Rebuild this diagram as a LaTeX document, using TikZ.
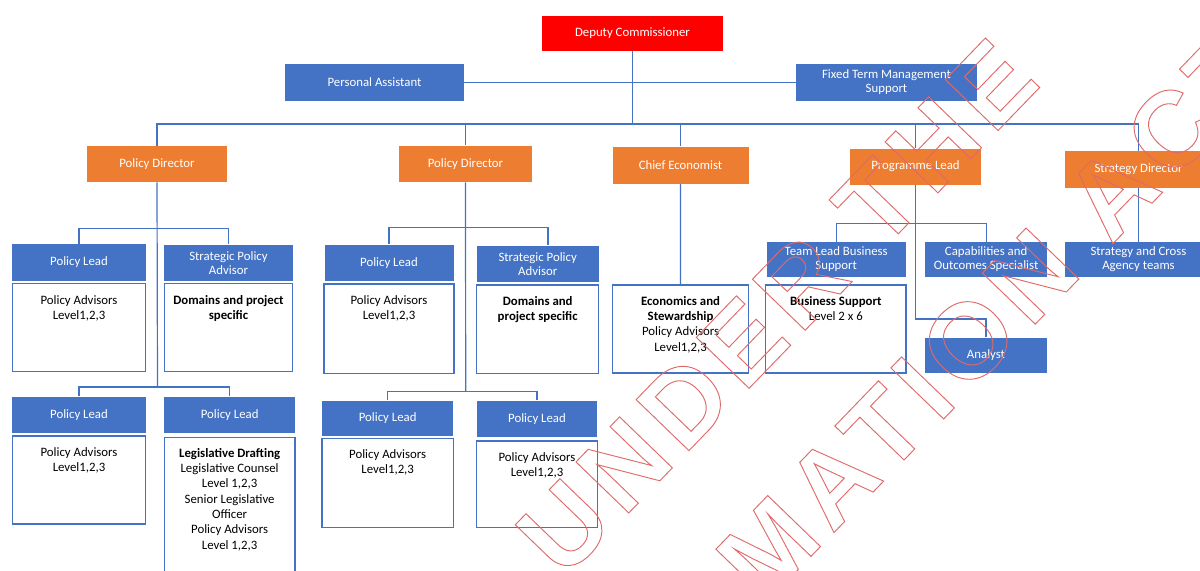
\documentclass[tikz,border=0pt]{standalone}
\usepackage{fontspec}
\setmainfont{Carlito}
\newfontfamily\wmfont{Liberation Sans}[LetterSpace=9]
\definecolor{cblue}{HTML}{4472C4}
\definecolor{corange}{HTML}{ED7D31}
\definecolor{cred}{HTML}{FF0000}
\definecolor{wmred}{HTML}{E06A6A}
\tikzset{
  conn/.style={draw=cblue, line width=0.9pt},
  head/.style={rectangle, inner sep=0pt, align=center, text=white, font=\fontsize{9.6}{10.6}\selectfont},
  bluehead/.style={head, fill=cblue},
  orangehead/.style={head, fill=corange},
  redhead/.style={head, fill=cred},
  bodybox/.style={rectangle, draw=cblue, line width=1.1pt, fill=white, inner sep=0pt},
  bodytext/.style={anchor=north, align=center, inner sep=0pt, text=black, font=\fontsize{9.6}{11.3}\selectfont},
  wmark/.style={anchor=base, rotate=46, inner sep=0pt, text=wmred, font=\wmfont\bfseries\fontsize{80}{90}\selectfont},
}
\newcommand\orgnode[7]{\node[#6, minimum width={(#4-(#2))*0.75pt}, minimum height={(#5-(#3))*0.75pt}] (#1) at ({(#2+#4)/2},{(#3+#5)/2}) {#7};}
\newcommand\outlinetext[1]{\special{pdf:literal 1 Tr 0.7 w}#1\special{pdf:literal 0 Tr}}
\begin{document}
\begin{tikzpicture}[x=0.75pt, y=-0.75pt]
\useasboundingbox (0,0) rectangle (1200,571);
\clip (0,0) rectangle (1200,571);
\fill[white] (0,0) rectangle (1200,571);

% top level
\orgnode{dc}{542}{16}{723}{51}{redhead}{Deputy Commissioner}
\orgnode{pa}{285}{64}{464}{100.5}{bluehead}{Personal Assistant}
\orgnode{ftms}{796}{64}{977}{100.5}{bluehead}{Fixed Term Management\\Support}
\coordinate (j0) at (632.5,124);

% second level
\orgnode{pd1}{87}{146}{227}{182}{orangehead}{Policy Director}
\orgnode{pd2}{399}{145.5}{532}{182}{orangehead}{Policy Director}
\orgnode{ce}{612.5}{146.5}{748.5}{183.5}{orangehead}{Chief Economist}
\orgnode{pl}{850}{148.5}{981}{184.5}{orangehead}{Programme Lead}
\orgnode{sd}{1065}{151}{1212}{188}{orangehead}{Strategy Director}

% column 1
\orgnode{pl1a}{12.3}{244}{145.7}{281}{bluehead}{Policy Lead}
\orgnode{b1a}{12.3}{283.5}{145.7}{371.7}{bodybox}{}
\orgnode{spa1}{164.3}{244.5}{292.7}{281}{bluehead}{Strategic Policy\\Advisor}
\orgnode{bspa1}{164.3}{283.5}{292.7}{371.7}{bodybox}{}
\orgnode{pl1b}{12.3}{396.7}{145.7}{433.3}{bluehead}{Policy Lead}
\orgnode{b1b}{12.3}{436}{145.7}{524}{bodybox}{}
\orgnode{leg}{164.3}{396.7}{295}{433.3}{bluehead}{Policy Lead}
\orgnode{bleg}{164.3}{437.7}{295}{600}{bodybox}{}
\coordinate (c1) at (157.5,387.3);

% column 2
\orgnode{pl2a}{324.5}{244.5}{453.5}{281}{bluehead}{Policy Lead}
\orgnode{b2a}{324}{284}{454}{373.3}{bodybox}{}
\orgnode{spa2}{476.7}{245.7}{598.7}{281.7}{bluehead}{Strategic Policy\\Advisor}
\orgnode{bspa2}{476.7}{285}{598.7}{373.3}{bodybox}{}
\orgnode{pl2b}{322}{400.7}{453.3}{435.7}{bluehead}{Policy Lead}
\orgnode{b2b}{322}{438.3}{453.3}{527.7}{bodybox}{}
\orgnode{pl2c}{476.7}{400.7}{597.3}{437.3}{bluehead}{Policy Lead}
\orgnode{b2c}{476.7}{441}{597.3}{527.7}{bodybox}{}
\coordinate (c2) at (465.7,391.7);

% column 3
\orgnode{econ}{612.6}{285}{748.5}{373}{bodybox}{}

% column 4
\orgnode{tl}{766.7}{242}{905.7}{276.7}{bluehead}{Team Lead Business\\Support}
\orgnode{bs}{765.7}{285}{906}{373}{bodybox}{}
\orgnode{cap}{925.3}{242}{1047}{277}{bluehead}{Capabilities and\\Outcomes Specialist}
\orgnode{an}{925}{337.7}{1047}{373.3}{bluehead}{Analyst}
\coordinate (c4) at (915.5,319);

% column 5
\orgnode{sac}{1065}{242}{1212}{277}{bluehead}{Strategy and Cross\\Agency teams}

% body texts
\node[bodytext] (t1a) at ([yshift=-9.2pt]b1a.north) {Policy Advisors\\Level1,2,3};
\node[bodytext] (tspa1) at ([yshift=-9.2pt]bspa1.north) {\bfseries Domains and project\\\bfseries specific};
\node[bodytext] (t1b) at ([yshift=-9.2pt]b1b.north) {Policy Advisors\\Level1,2,3};
\node[bodytext, font=\fontsize{9.6}{11.5}\selectfont] (tleg) at ([yshift=-8.3pt]bleg.north) {\bfseries Legislative Drafting\\Legislative Counsel\\Level 1,2,3\\Senior Legislative\\Officer\\Policy Advisors\\Level 1,2,3};
\node[bodytext] (t2a) at ([yshift=-8.8pt]b2a.north) {Policy Advisors\\Level1,2,3};
\node[bodytext] (tspa2) at ([yshift=-8.8pt]bspa2.north) {\bfseries Domains and\\\bfseries project specific};
\node[bodytext] (t2b) at ([yshift=-8.8pt]b2b.north) {Policy Advisors\\Level1,2,3};
\node[bodytext] (t2c) at ([yshift=-8.8pt]b2c.north) {Policy Advisors\\Level1,2,3};
\node[bodytext, font=\fontsize{9.6}{11.5}\selectfont] (tecon) at ([yshift=-8.8pt]econ.north) {\bfseries Economics and\\\bfseries Stewardship\\Policy Advisors\\Level1,2,3};
\node[bodytext, font=\fontsize{9.6}{11.5}\selectfont] (tbs) at ([yshift=-8.8pt]bs.north) {\bfseries Business Support\\Level 2 x 6};

% connectors
\draw[conn] (dc.south) -- (j0);
\draw[conn] (pa.east) -- (ftms.west);
\draw[conn] (pd1.north) -- (pd1.north |- j0) -- (sd.north |- j0) -- (sd.north);
\draw[conn] (pd2.north) -- (pd2.north |- j0);
\draw[conn] (ce.north) -- (ce.north |- j0);
\draw[conn] (pl.north) -- (pl.north |- j0);

\draw[conn] (pd1.south) -- (c1);
\draw[conn] (pl1a.north) -- ++(0,-15) -| (spa1.north);
\draw[conn] (pl1b.north) -- ++(0,-9.4) -| (leg.north);

\draw[conn] (pd2.south) -- (c2);
\draw[conn] (pl2a.north) -- ++(0,-16.5) -| ([xshift=7.7pt]spa2.north);
\draw[conn] (pl2b.north) -- ++(0,-9) -| (pl2c.north);

\draw[conn] (ce.south) -- (econ.north);

\draw[conn] (pl.south) -- (c4) -| (an.north);
\draw[conn] (tl.north) -- ++(0,-18.5) -| (cap.north);

\draw[conn] (sd.south) -- (sac.north);

% watermark
\node[wmark] (wm1) at (564.5,579.5) {\outlinetext{RELEASED UNDER THE}};
\node[wmark] (wm2) at (680.5,691.5) {\outlinetext{OFFICIAL INFORMATION ACT}};
\end{tikzpicture}
\end{document}
